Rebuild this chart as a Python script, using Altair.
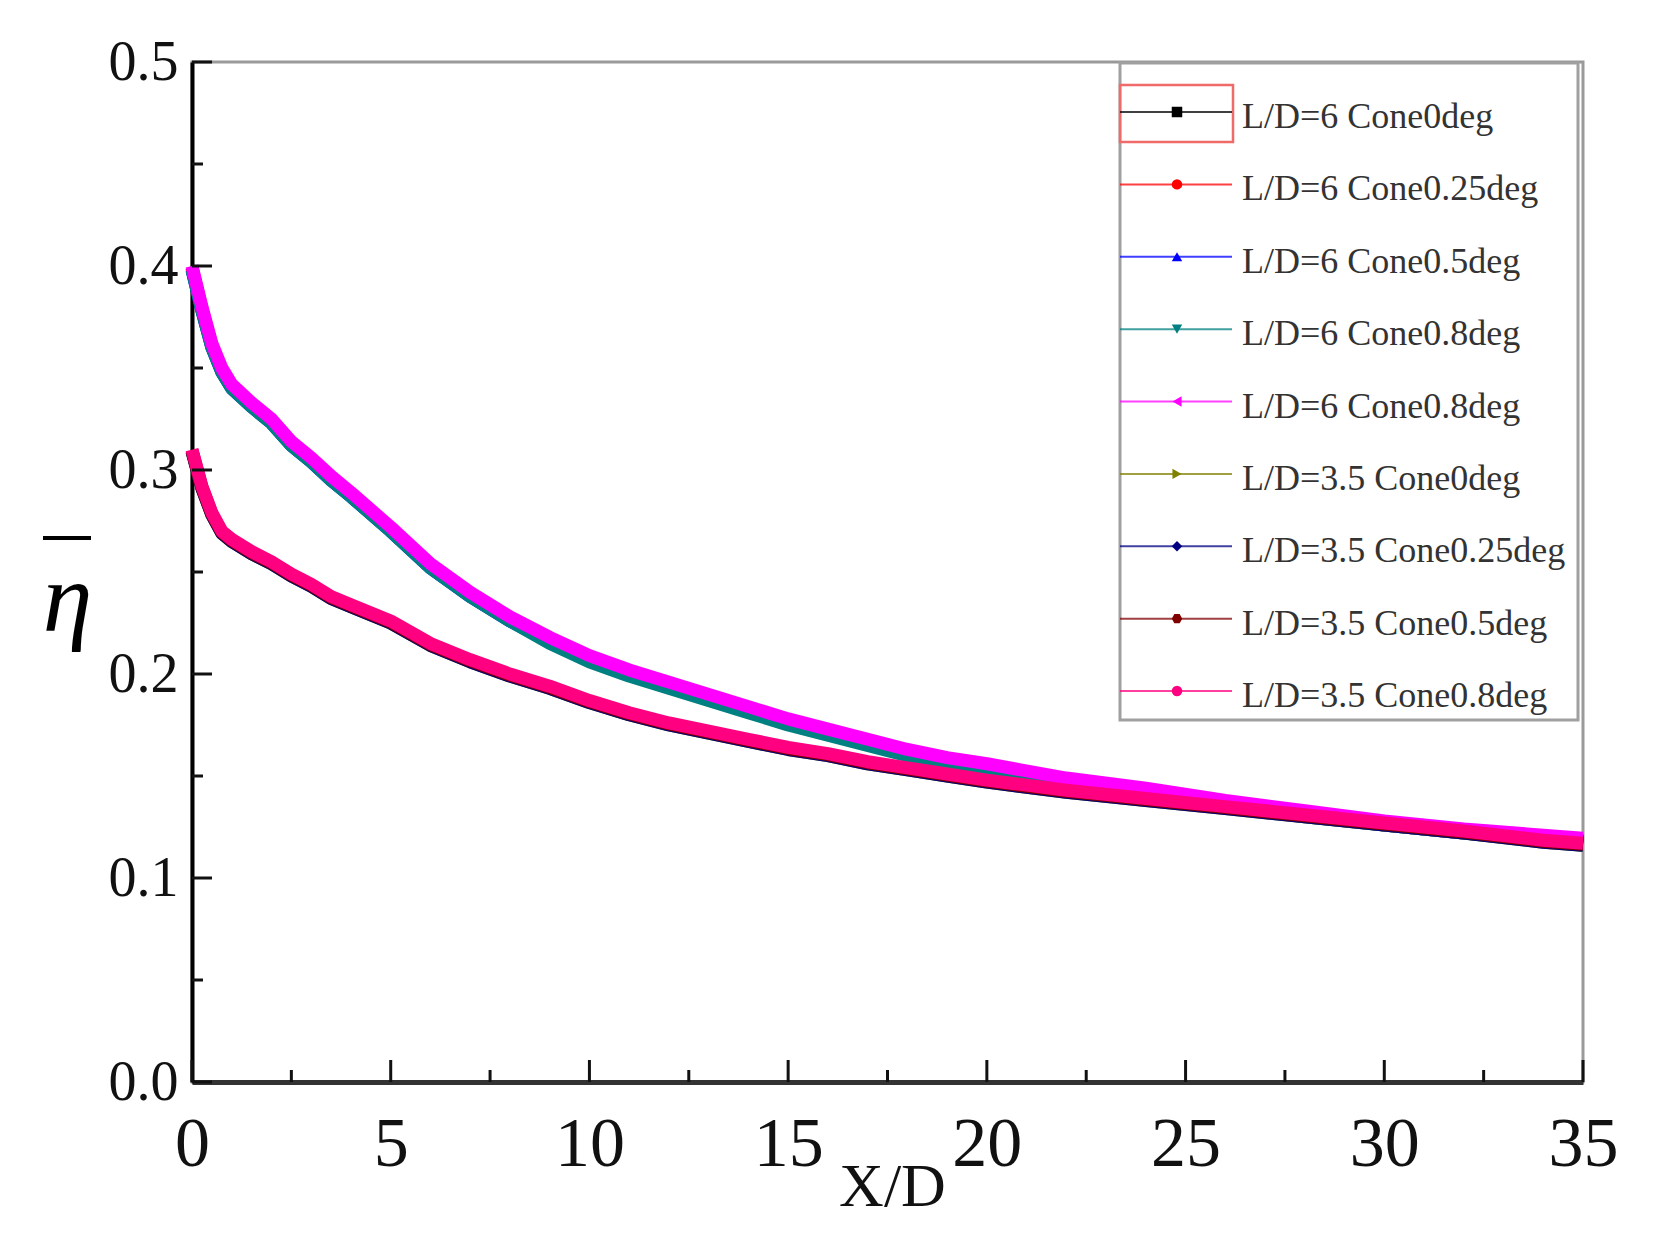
import altair as alt
import pandas as pd

# ---------------- data ----------------
X = [0, 0.25, 0.5, 0.75, 1, 1.5, 2, 2.5, 3, 3.5, 4, 5, 6, 7, 8, 9, 10, 11, 12,
     13, 14, 15, 16, 17, 18, 19, 20, 22, 24, 26, 28, 30, 32, 34, 35]

LD6_C0 = [0.399, 0.379, 0.361, 0.349, 0.341, 0.332, 0.324, 0.313, 0.305, 0.296, 0.288, 0.271, 0.253, 0.239, 0.227, 0.217, 0.208, 0.201, 0.195, 0.189, 0.183, 0.177, 0.172, 0.167, 0.162, 0.158, 0.155, 0.148, 0.143, 0.137, 0.132, 0.127, 0.123, 0.120, 0.118]
LD6_C025 = [0.399, 0.379, 0.361, 0.349, 0.341, 0.332, 0.324, 0.313, 0.305, 0.296, 0.288, 0.271, 0.253, 0.239, 0.227, 0.217, 0.208, 0.201, 0.195, 0.189, 0.183, 0.177, 0.172, 0.167, 0.162, 0.158, 0.155, 0.148, 0.143, 0.137, 0.132, 0.127, 0.123, 0.120, 0.118]
LD6_C05 = [0.398, 0.378, 0.360, 0.348, 0.340, 0.331, 0.323, 0.312, 0.304, 0.295, 0.287, 0.270, 0.252, 0.238, 0.226, 0.216, 0.207, 0.200, 0.194, 0.188, 0.182, 0.176, 0.171, 0.166, 0.161, 0.157, 0.154, 0.147, 0.142, 0.136, 0.131, 0.126, 0.122, 0.119, 0.117]
LD6_C08a = [0.398, 0.378, 0.360, 0.348, 0.340, 0.331, 0.323, 0.312, 0.304, 0.295, 0.287, 0.270, 0.252, 0.238, 0.226, 0.215, 0.206, 0.199, 0.193, 0.187, 0.181, 0.175, 0.170, 0.165, 0.160, 0.156, 0.153, 0.146, 0.141, 0.135, 0.130, 0.126, 0.122, 0.118, 0.116]
LD6_C08b = [0.400, 0.380, 0.362, 0.350, 0.342, 0.333, 0.325, 0.314, 0.306, 0.297, 0.289, 0.272, 0.254, 0.240, 0.228, 0.218, 0.209, 0.202, 0.196, 0.190, 0.184, 0.178, 0.173, 0.168, 0.163, 0.159, 0.156, 0.149, 0.144, 0.138, 0.133, 0.128, 0.124, 0.121, 0.1195]
LD35_C0 = [0.309, 0.291, 0.278, 0.269, 0.265, 0.259, 0.254, 0.248, 0.243, 0.237, 0.233, 0.225, 0.214, 0.206, 0.199, 0.193, 0.186, 0.180, 0.175, 0.171, 0.167, 0.163, 0.160, 0.156, 0.153, 0.150, 0.147, 0.142, 0.138, 0.134, 0.130, 0.126, 0.122, 0.1175, 0.116]
LD35_C025 = [0.309, 0.291, 0.278, 0.269, 0.265, 0.259, 0.254, 0.248, 0.243, 0.237, 0.233, 0.225, 0.214, 0.206, 0.199, 0.193, 0.186, 0.180, 0.175, 0.171, 0.167, 0.163, 0.160, 0.156, 0.153, 0.150, 0.147, 0.142, 0.138, 0.134, 0.130, 0.126, 0.122, 0.1175, 0.116]
LD35_C05 = [0.3095, 0.2915, 0.2785, 0.2695, 0.2655, 0.2595, 0.2545, 0.2485, 0.2435, 0.2375, 0.2335, 0.2255, 0.2145, 0.2065, 0.1995, 0.1935, 0.1865, 0.1805, 0.1755, 0.1715, 0.1675, 0.1635, 0.1605, 0.1565, 0.1535, 0.1505, 0.1475, 0.1425, 0.1385, 0.1345, 0.1305, 0.1265, 0.1225, 0.118, 0.1165]
LD35_C08 = [0.310, 0.292, 0.279, 0.270, 0.266, 0.260, 0.255, 0.249, 0.244, 0.238, 0.234, 0.226, 0.215, 0.207, 0.200, 0.194, 0.187, 0.181, 0.176, 0.172, 0.168, 0.164, 0.161, 0.157, 0.154, 0.151, 0.148, 0.143, 0.139, 0.135, 0.131, 0.127, 0.123, 0.1185, 0.117]

SERIES_IDS = ["s1", "s2", "s3", "s4", "s5", "s6", "s7", "s8", "s9"]
SERIES_LABELS = ["L/D=6 Cone0deg", "L/D=6 Cone0.25deg", "L/D=6 Cone0.5deg",
                 "L/D=6 Cone0.8deg", "L/D=6 Cone0.8deg", "L/D=3.5 Cone0deg",
                 "L/D=3.5 Cone0.25deg", "L/D=3.5 Cone0.5deg", "L/D=3.5 Cone0.8deg"]
SERIES_VALUES = [LD6_C0, LD6_C025, LD6_C05, LD6_C08a, LD6_C08b,
                 LD35_C0, LD35_C025, LD35_C05, LD35_C08]
SERIES_COLORS = ["#000000", "#FF0000", "#0000FF", "#008080", "#FF00FF",
                 "#808000", "#000080", "#800000", "#FF0080"]
HEXAGON = "M-1,0L-0.5,-0.866L0.5,-0.866L1,0L0.5,0.866L-0.5,0.866Z"
SERIES_SHAPES = ["square", "circle", "triangle-up", "triangle-down",
                 "triangle-left", "triangle-right", "diamond", HEXAGON, "circle"]

XT_MAJOR = [0, 5, 10, 15, 20, 25, 30, 35]
XT_MINOR = [2.5, 7.5, 12.5, 17.5, 22.5, 27.5, 32.5]
YT_MAJOR = [0.0, 0.1, 0.2, 0.3, 0.4, 0.5]
YT_MINOR = [0.05, 0.15, 0.25, 0.35, 0.45]

# ---------------- build ----------------
rows = []
for sid, vals in zip(SERIES_IDS, SERIES_VALUES):
    for xv, ev in zip(X, vals):
        rows.append({"sid": sid, "x": xv, "eta": ev})
df = pd.DataFrame(rows)

FONT = "Liberation Serif"
W, H = 1391, 1020

xscale = alt.Scale(domain=[0, 35], nice=False, zero=False)
yscale = alt.Scale(domain=[0, 0.5], nice=False)
color = alt.Color("sid:N", scale=alt.Scale(domain=SERIES_IDS, range=SERIES_COLORS), legend=None)
shape = alt.Shape("sid:N", scale=alt.Scale(domain=SERIES_IDS, range=SERIES_SHAPES), legend=None)

xaxis = alt.Axis(values=XT_MAJOR, format="d", grid=False, ticks=False, tickSize=0,
                 domainColor="#333333", domainWidth=5, labelFlush=False,
                 labelFont=FONT, labelFontSize=70, labelColor="#111111", labelPadding=28,
                 title="X/D", titleFont=FONT, titleFontSize=62, titleFontWeight="normal",
                 titleColor="#111111", titleX=700, titleY=123, titleBaseline="alphabetic")
yaxis = alt.Axis(values=YT_MAJOR, format=".1f", grid=False, ticks=False, tickSize=0,
                 domainColor="#000000", domainWidth=4,
                 labelFont=FONT, labelFontSize=56, labelColor="#111111", labelPadding=14,
                 title="\u03b7", titleFont=FONT, titleFontSize=100,
                 titleFontStyle="italic", titleFontWeight="normal", titleColor="#000000",
                 titleAngle=0, titleAlign="center", titleBaseline="alphabetic",
                 titleX=-125, titleY=568)

layers = []
for sid in SERIES_IDS:
    layers.append(
        alt.Chart(df).transform_filter(alt.datum.sid == sid)
        .mark_line(strokeWidth=13, strokeJoin="round")
        .encode(
            x=alt.X("x:Q", scale=xscale, axis=xaxis),
            y=alt.Y("eta:Q", scale=yscale, axis=yaxis),
            color=color,
            order="x:Q",
        )
    )

xt_major = alt.Chart(pd.DataFrame({"x": XT_MAJOR})).mark_rule(color="#111111", strokeWidth=3).encode(
    x=alt.X("x:Q", scale=xscale, axis=xaxis), y=alt.value(H), y2=alt.value(H - 22))
xt_minor = alt.Chart(pd.DataFrame({"x": XT_MINOR})).mark_rule(color="#111111", strokeWidth=3).encode(
    x=alt.X("x:Q", scale=xscale, axis=xaxis), y=alt.value(H), y2=alt.value(H - 12))
yt_major = alt.Chart(pd.DataFrame({"eta": YT_MAJOR})).mark_rule(color="#111111", strokeWidth=3).encode(
    y=alt.Y("eta:Q", scale=yscale, axis=yaxis), x=alt.value(0), x2=alt.value(20))
yt_minor = alt.Chart(pd.DataFrame({"eta": YT_MINOR})).mark_rule(color="#111111", strokeWidth=3).encode(
    y=alt.Y("eta:Q", scale=yscale, axis=yaxis), x=alt.value(0), x2=alt.value(11))

main = alt.layer(*layers, xt_major, xt_minor, yt_major, yt_minor)

# ---------------- legend & title decoration ----------------
leg_df = pd.DataFrame({"sid": SERIES_IDS, "label": SERIES_LABELS})
legy = alt.Y("sid:N", scale=alt.Scale(type="point", domain=SERIES_IDS, range=[50, 629], padding=0), axis=None)
one = pd.DataFrame({"k": [0]})

# overline of the eta axis title (a thin filled bar)
overline = alt.Chart(one).mark_rect(fill="#000000", stroke=None).encode(
    x=alt.value(-149), x2=alt.value(-101), y=alt.value(474), y2=alt.value(478))

box = alt.Chart(one).mark_rect(fill="white", stroke="#a0a0a0", strokeWidth=3).encode(
    x=alt.value(928), x2=alt.value(1386), y=alt.value(1), y2=alt.value(658))
highlight = alt.Chart(one).mark_rect(fill=None, stroke="#f06a6a", strokeWidth=2.5).encode(
    x=alt.value(928), x2=alt.value(1041), y=alt.value(23), y2=alt.value(80))
leg_line = alt.Chart(leg_df).mark_rule(strokeWidth=2, opacity=0.75).encode(
    x=alt.value(928), x2=alt.value(1040), y=legy, color=color)
leg_pt = alt.Chart(leg_df).mark_point(filled=True, size=110, opacity=1).encode(
    x=alt.value(985), y=legy, color=color, shape=shape)
leg_txt = alt.Chart(leg_df).mark_text(align="left", baseline="middle", dy=5, font=FONT,
                                      fontSize=36, color="#333333").encode(
    x=alt.value(1050), y=legy, text="label:N")

legend = alt.layer(overline, box, highlight, leg_line, leg_pt, leg_txt)

chart = (
    alt.layer(main, legend)
    .resolve_scale(y="independent")
    .properties(width=W, height=H, autosize=alt.AutoSizeParams(type="none"),
                padding={"left": 184, "top": 54, "right": 72, "bottom": 150},
                background="white")
    .configure_view(stroke="#9a9a9a", strokeWidth=3)
)

chart.save("out.html", embed_options={"renderer": "svg", "actions": False})
